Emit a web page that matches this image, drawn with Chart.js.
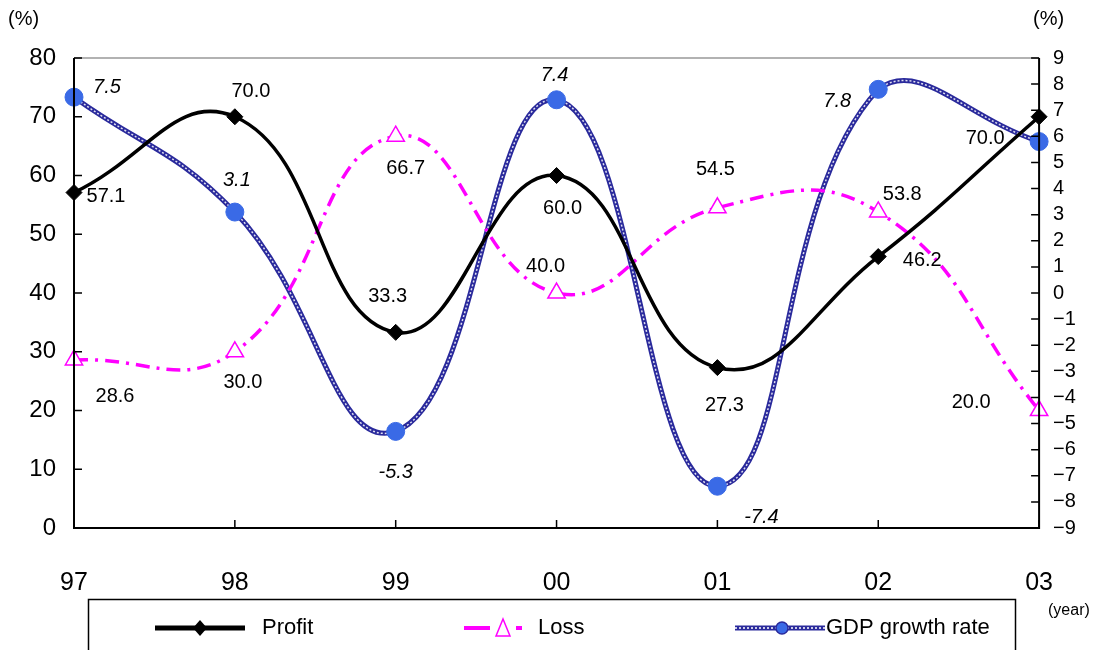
<!DOCTYPE html>
<html>
<head>
<meta charset="utf-8">
<script src="https://cdn.jsdelivr.net/npm/chart.js@4.4.1/dist/chart.umd.min.js"></script>
<style>
  body { margin: 0; background: #fff; }
  #wrap { width: 1093px; height: 650px; }
</style>
</head>
<body>
<div id="wrap"><canvas id="chart" width="1093" height="650"></canvas></div>
<script>
// data
const years = ['97', '98', '99', '00', '01', '02', '03'];
const profit = [57.1, 70.0, 33.3, 60.0, 27.3, 46.2, 70.0];
const loss = [28.6, 30.0, 66.7, 40.0, 54.5, 53.8, 20.0];
const gdpGrowth = [7.5, 3.1, -5.3, 7.4, -7.4, 7.8, 5.8];
const gdpShowLabel = [true, true, true, true, true, true, false];
const seriesNames = ['Profit', 'Loss', 'GDP growth rate'];

// left axis (%) and right axis (%) ranges
const leftMin = 0, leftMax = 80, leftStep = 10;
const rightMin = -9, rightMax = 9, rightStep = 1;

// label offsets from each point (dx, dy)
const profitOffsets = [[32, 4], [16, -25], [-8, -36], [6, 33], [7, 38], [44, 4], [-54, 22]];
const lossOffsets = [[41, 37], [8, 31], [10, 32], [-11, -27], [-2, -38], [24, -17], [-68, -8]];
const gdpOffsets = [[33, -10], [2, -32], [0, 41], [-2, -24], [44, 31], [-41, 12], [0, 0]];

const MAGENTA = '#ff00ff';
const NAVY = '#2a2a9c';
const DOT_BLUE = '#3a6ae6';
const TENSION = 0.45;
const SANS = '"Liberation Sans", Arial, sans-serif';

function drawLabels(chart) {
    const ctx = chart.ctx;
    ctx.save();
    ctx.fillStyle = '#000';
    ctx.textAlign = 'center';
    ctx.textBaseline = 'middle';

    const sets = [
        { idx: 0, values: profit, offsets: profitOffsets, italic: false },
        { idx: 1, values: loss, offsets: lossOffsets, italic: false },
        { idx: 2, values: gdpGrowth, offsets: gdpOffsets, italic: true }
    ];
    sets.forEach(s => {
        const meta = chart.getDatasetMeta(s.idx);
        meta.data.forEach((pt, i) => {
            if (s.italic && !gdpShowLabel[i]) return;
            ctx.font = (s.italic ? 'italic ' : '') + '20px ' + SANS;
            ctx.fillText(s.values[i].toFixed(1), pt.x + s.offsets[i][0], pt.y + s.offsets[i][1]);
        });
    });
    ctx.restore();
}

function drawFrame(chart) {
    const ctx = chart.ctx;
    const a = chart.chartArea;
    ctx.save();
    // top border is grey, the rest black
    ctx.strokeStyle = '#999';
    ctx.lineWidth = 1.5;
    ctx.beginPath();
    ctx.moveTo(a.left, a.top);
    ctx.lineTo(a.right, a.top);
    ctx.stroke();

    ctx.strokeStyle = '#000';
    ctx.lineWidth = 2;
    ctx.beginPath();
    ctx.moveTo(a.left, a.top);
    ctx.lineTo(a.left, a.bottom);
    ctx.lineTo(a.right, a.bottom);
    ctx.lineTo(a.right, a.top);
    ctx.stroke();

    // inward tick marks
    ctx.lineWidth = 1.5;
    const y = chart.scales.y, y1 = chart.scales.y1, x = chart.scales.x;
    ctx.beginPath();
    y.ticks.forEach(t => {
        const py = y.getPixelForValue(t.value);
        ctx.moveTo(a.left, py);
        ctx.lineTo(a.left + 8, py);
    });
    y1.ticks.forEach(t => {
        const py = y1.getPixelForValue(t.value);
        ctx.moveTo(a.right, py);
        ctx.lineTo(a.right - 8, py);
    });
    years.forEach((_, i) => {
        const px = x.getPixelForValue(i);
        ctx.moveTo(px, a.bottom);
        ctx.lineTo(px, a.bottom - 8);
    });
    ctx.stroke();

    // unit labels
    ctx.fillStyle = '#000';
    ctx.textBaseline = 'middle';
    ctx.font = '20px ' + SANS;
    ctx.textAlign = 'left';
    ctx.fillText('(%)', 8, 19);
    ctx.fillText('(%)', 1033, 19);
    ctx.font = '16px ' + SANS;
    ctx.fillText('(year)', 1048, 611);
    ctx.restore();
}

function drawLegend(chart) {
    const ctx = chart.ctx;
    ctx.save();
    ctx.strokeStyle = '#000';
    ctx.lineWidth = 1.5;
    ctx.strokeRect(88.5, 599.5, 927, 70);

    const ly = 628;
    // Profit
    ctx.strokeStyle = '#000';
    ctx.lineWidth = 5;
    ctx.beginPath();
    ctx.moveTo(155, ly);
    ctx.lineTo(245, ly);
    ctx.stroke();
    ctx.fillStyle = '#000';
    ctx.beginPath();
    ctx.moveTo(200, ly - 8);
    ctx.lineTo(207, ly);
    ctx.lineTo(200, ly + 8);
    ctx.lineTo(193, ly);
    ctx.closePath();
    ctx.fill();

    // Loss
    ctx.strokeStyle = MAGENTA;
    ctx.lineWidth = 4;
    ctx.beginPath();
    ctx.moveTo(464, ly);
    ctx.lineTo(490, ly);
    ctx.moveTo(516, ly);
    ctx.lineTo(522, ly);
    ctx.stroke();
    ctx.lineWidth = 1.5;
    ctx.fillStyle = '#fff';
    ctx.beginPath();
    ctx.moveTo(503, ly - 9);
    ctx.lineTo(510, ly + 8);
    ctx.lineTo(496, ly + 8);
    ctx.closePath();
    ctx.fill();
    ctx.stroke();

    // GDP growth rate
    ctx.strokeStyle = NAVY;
    ctx.lineWidth = 5;
    ctx.beginPath();
    ctx.moveTo(735, ly);
    ctx.lineTo(825, ly);
    ctx.stroke();
    ctx.strokeStyle = '#fff';
    ctx.lineWidth = 1.5;
    ctx.setLineDash([2, 2]);
    ctx.beginPath();
    ctx.moveTo(735, ly);
    ctx.lineTo(825, ly);
    ctx.stroke();
    ctx.setLineDash([]);
    ctx.fillStyle = DOT_BLUE;
    ctx.strokeStyle = NAVY;
    ctx.beginPath();
    ctx.arc(782, ly, 6, 0, Math.PI * 2);
    ctx.fill();
    ctx.stroke();

    ctx.fillStyle = '#000';
    ctx.textBaseline = 'middle';
    ctx.textAlign = 'left';
    ctx.font = '22px ' + SANS;
    ctx.fillText(seriesNames[0], 262, ly);
    ctx.fillText(seriesNames[1], 538, ly);
    ctx.fillText(seriesNames[2], 826, ly);
    ctx.restore();
}

const extras = {
    id: 'extras',
    afterDraw(chart) {
        drawFrame(chart);
        drawLabels(chart);
        drawLegend(chart);
    }
};

const ctx = document.getElementById('chart').getContext('2d');
new Chart(ctx, {
    type: 'line',
    data: {
        labels: years,
        datasets: [
            {
                label: seriesNames[0],
                data: profit,
                yAxisID: 'y',
                borderColor: '#000',
                backgroundColor: '#000',
                borderWidth: 3.5,
                tension: TENSION,
                pointStyle: 'rectRot',
                pointRadius: 8,
                pointBorderWidth: 1,
                clip: false
            },
            {
                label: seriesNames[1],
                data: loss,
                yAxisID: 'y',
                borderColor: MAGENTA,
                backgroundColor: '#fff',
                borderWidth: 3.5,
                borderDash: [14, 7, 3, 7],
                tension: TENSION,
                pointStyle: 'triangle',
                pointRadius: 10,
                pointBorderWidth: 1.5,
                clip: false
            },
            {
                label: seriesNames[2],
                data: gdpGrowth,
                yAxisID: 'y1',
                showLine: false,
                borderColor: DOT_BLUE,
                backgroundColor: DOT_BLUE,
                pointRadius: 9,
                pointBorderWidth: 1,
                clip: false
            },
            {
                label: '_gdpTexture',
                data: gdpGrowth,
                yAxisID: 'y1',
                borderColor: 'rgba(255,255,255,0.85)',
                borderWidth: 1.5,
                borderDash: [2, 2],
                tension: TENSION,
                pointRadius: 0,
                clip: false
            },
            {
                label: '_gdpLine',
                data: gdpGrowth,
                yAxisID: 'y1',
                borderColor: NAVY,
                borderWidth: 5,
                tension: TENSION,
                pointRadius: 0,
                clip: false
            }
        ]
    },
    options: {
        responsive: false,
        animation: false,
        layout: { padding: { top: 58, left: 0, right: 0, bottom: 0 } },
        plugins: {
            legend: { display: false },
            tooltip: { enabled: false }
        },
        scales: {
            x: {
                offset: false,
                grid: { display: false, drawTicks: false },
                border: { display: false },
                ticks: {
                    color: '#000',
                    padding: 40,
                    maxRotation: 0,
                    font: { family: SANS, size: 25 }
                },
                afterFit(scale) { scale.height = 122; }
            },
            y: {
                position: 'left',
                min: leftMin,
                max: leftMax,
                grid: { display: false, drawTicks: false },
                border: { display: false },
                ticks: {
                    stepSize: leftStep,
                    color: '#000',
                    padding: 18,
                    font: { family: SANS, size: 24 }
                },
                afterFit(scale) { scale.width = 74; }
            },
            y1: {
                position: 'right',
                min: rightMin,
                max: rightMax,
                grid: { display: false, drawTicks: false },
                border: { display: false },
                ticks: {
                    stepSize: rightStep,
                    autoSkip: false,
                    color: '#000',
                    padding: 14,
                    font: { family: SANS, size: 20 },
                    callback: v => String(v).replace('-', '\u2212')
                },
                afterFit(scale) { scale.width = 50; }
            }
        }
    },
    plugins: [extras]
});
</script>
</body>
</html>
